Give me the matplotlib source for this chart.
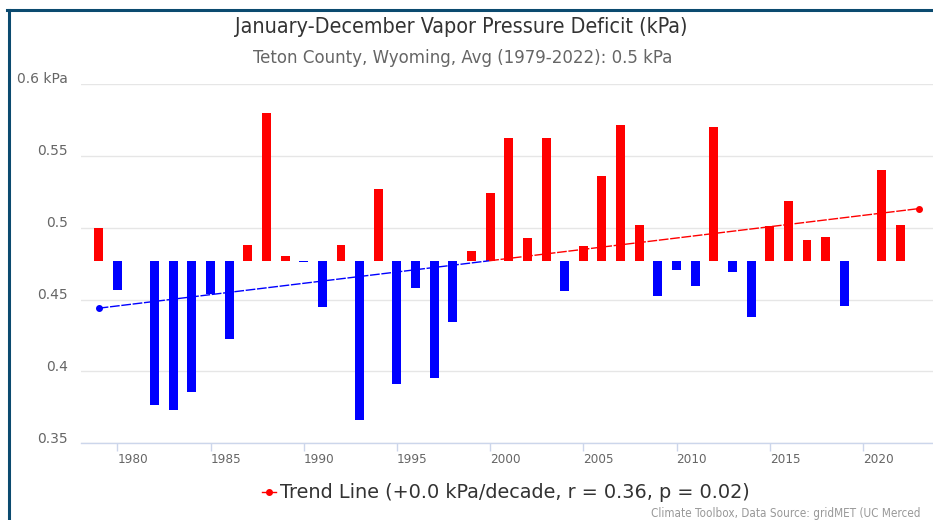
import numpy as np
import matplotlib
matplotlib.use("Agg")
import matplotlib.pyplot as plt
from matplotlib import font_manager
from matplotlib.transforms import ScaledTranslation
from matplotlib.lines import Line2D

# ---------------- data ----------------
years = list(range(1979, 2023))
vpd = [0.500, 0.4567, 0.4770, 0.3768, 0.3733, 0.3856, 0.4537, 0.4227, 0.4880, 0.5800,
       0.4806, 0.4763, 0.4451, 0.4880, 0.3659, 0.5268, 0.3914, 0.4584, 0.3955, 0.4343,
       0.4839, 0.5244, 0.5624, 0.4931, 0.5624, 0.4563, 0.4873, 0.5360, 0.5715, 0.5022,
       0.4526, 0.4707, 0.4593, 0.5699, 0.4693, 0.4378, 0.5013, 0.5186, 0.4915, 0.4938,
       0.4458, 0.4770, 0.5402, 0.5022]
baseline = 0.4770
trend_years = [1979, 2023]
trend_values = [0.4440, 0.5133]
ytick_values = [0.35, 0.40, 0.45, 0.50, 0.55, 0.60]
ytick_labels = ["0.35", "0.4", "0.45", "0.5", "0.55", "0.6 kPa"]
xtick_years = [1980, 1985, 1990, 1995, 2000, 2005, 2010, 2015, 2020]
title = "January-December Vapor Pressure Deficit (kPa)"
subtitle = "Teton County, Wyoming, Avg (1979-2022): 0.5 kPa"
legend_label = "Trend Line (+0.0 kPa/decade, r = 0.36, p = 0.02)"
credits = "Climate Toolbox, Data Source: gridMET (UC Merced"

# ---------------- fonts ----------------
names = {f.name for f in font_manager.fontManager.ttflist}
if "Liberation Sans Narrow" in names:
    narrow = dict(family=["Liberation Sans Narrow", "DejaVu Sans"])
else:
    narrow = dict(family=["DejaVu Sans"], stretch="condensed")

W, H, DPI = 933, 520, 100
fig = plt.figure(figsize=(W / DPI, H / DPI), dpi=DPI)
fig.patch.set_facecolor("white")

def px(x, y):
    return x / W, 1 - y / H

ax_left, ax_right, ax_top, ax_bot = 81, 933, 84, 443.3
ax = fig.add_axes([ax_left / W, 1 - ax_bot / H, (ax_right - ax_left) / W, (ax_bot - ax_top) / H])
ax.set_xlim(1978.05, 2023.76)
ax.set_ylim(0.35, 0.6)

# bars relative to baseline
yrs = np.array(years)
vals = np.array(vpd)
colors = np.where(vals >= baseline, "#ff0000", "#0000ff")
ax.bar(yrs, vals - baseline, bottom=baseline, width=0.48, color=colors, zorder=2, linewidth=0)

# trend line with zones split at baseline
tx = np.array(trend_years, dtype=float)
ty = np.array(trend_values)
xc = tx[0] + (baseline - ty[0]) / (ty[1] - ty[0]) * (tx[1] - tx[0])
ls = (0, (7, 1.2))
ax.plot([tx[0], xc], [ty[0], baseline], color="#0000ff", lw=1.0, ls=ls, zorder=3)
ax.plot([xc, tx[1]], [baseline, ty[1]], color="#ff0000", lw=1.0, ls=ls, zorder=3)
ax.plot([tx[0]], [ty[0]], "o", color="#0000ff", ms=4, zorder=4)
ax.plot([tx[1]], [ty[1]], "o", color="#ff0000", ms=4, zorder=4)

# axes styling
for s in ["top", "right", "left"]:
    ax.spines[s].set_visible(False)
ax.spines["bottom"].set_color("#ccd6eb")
ax.spines["bottom"].set_linewidth(1)
ax.set_yticks(ytick_values)
ax.set_yticklabels(ytick_labels)
ax.yaxis.grid(True, color="#e6e6e6", lw=1)
ax.set_axisbelow(True)
ax.tick_params(axis="y", length=0, pad=9.5, labelsize=10, labelcolor="#666666")
for lbl in ax.get_yticklabels():
    lbl.set_transform(lbl.get_transform() + ScaledTranslation(0, 6 / DPI, fig.dpi_scale_trans))

ax.set_xticks(xtick_years)
ax.set_xticklabels([str(y) for y in xtick_years])
ax.tick_params(axis="x", length=5.5, width=1, color="#ccd6eb", pad=1.5, labelcolor="#666666")
for lbl in ax.get_xticklabels():
    lbl.set_ha("left")
    lbl.set_fontsize(9.6)
    lbl.set_family(narrow["family"])
    if "stretch" in narrow:
        lbl.set_stretch(narrow["stretch"])

# titles
fig.text(*px(461, 27), title, ha="center", va="center", fontsize=15.4, color="#333333", **narrow)
fig.text(*px(463, 58), subtitle, ha="center", va="center", fontsize=13.3, color="#666666", **narrow)

# legend
lx, ly = px(269, 492)
fig.add_artist(Line2D([px(262, 0)[0], px(276, 0)[0]], [ly, ly], color="#ff0000", lw=1))
fig.add_artist(Line2D([lx], [ly], marker="o", color="#ff0000", ms=4))
fig.text(*px(280, 492), legend_label, ha="left", va="center", fontsize=13.9, color="#333333")

# credits
fig.text(*px(651, 514), credits, ha="left", va="center", fontsize=8.4, color="#999999", **narrow)

# frame
fig.add_artist(Line2D([px(8.5, 0)[0], px(8.5, 0)[0]], [px(0, 10)[1], 0], color="#0b4a6f", lw=2.2))
fig.add_artist(Line2D([px(7.5, 0)[0], 1], [px(0, 10)[1], px(0, 10)[1]], color="#0b4a6f", lw=2.2))

fig.savefig("out.png", dpi=DPI)
